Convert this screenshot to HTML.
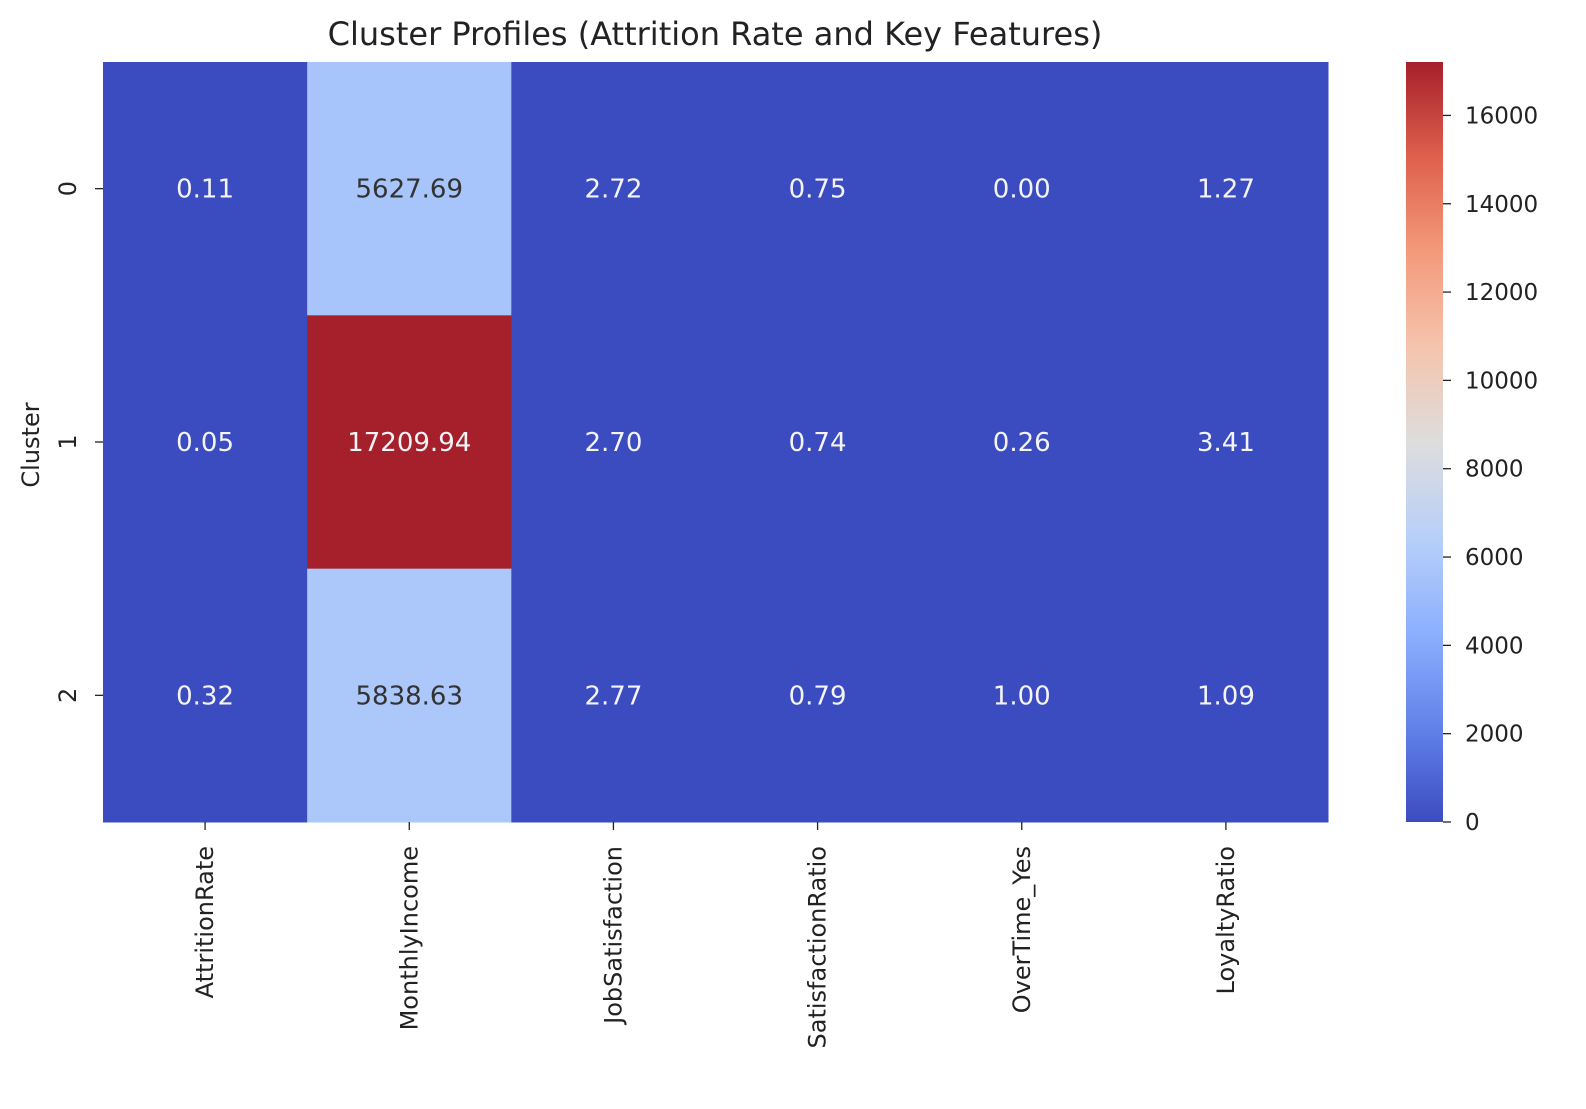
<!DOCTYPE html>
<html><head><meta charset="utf-8"><style>
html,body{margin:0;padding:0;background:#fff;}
svg text{font-family:"DejaVu Sans","Liberation Sans",sans-serif;}
</style></head><body>
<svg id="chart" width="1586" height="1104" viewBox="0 0 1586 1104" xmlns="http://www.w3.org/2000/svg">
<defs>
<linearGradient id="cw" x1="0" y1="1" x2="0" y2="0">
<stop offset="0" stop-color="#3b4cc0"/><stop offset="0.125" stop-color="#6282ea"/>
<stop offset="0.25" stop-color="#8db0fe"/><stop offset="0.375" stop-color="#b8d0f9"/>
<stop offset="0.5" stop-color="#dddddd"/><stop offset="0.625" stop-color="#f5c4ad"/>
<stop offset="0.75" stop-color="#f49a7b"/><stop offset="0.875" stop-color="#de604d"/>
<stop offset="1" stop-color="#a5202b"/></linearGradient>
</defs>
<text x="715" y="45" font-size="32" text-anchor="middle" fill="#222">Cluster Profiles (Attrition Rate and Key Features)</text>
<g id="cells"></g>
<g id="axes"></g>
<rect x="1406" y="62" width="37" height="760" fill="url(#cw)"/>
<g id="cbar"></g>
<text transform="translate(39,445) rotate(-90)" font-size="24" text-anchor="middle" fill="#222">Cluster</text>
</svg>
<script>
const features=["AttritionRate","MonthlyIncome","JobSatisfaction","SatisfactionRatio","OverTime_Yes","LoyaltyRatio"];
const clusters=["0","1","2"];
const values=[[0.11,5627.69,2.72,0.75,0.00,1.27],[0.05,17209.94,2.70,0.74,0.26,3.41],[0.32,5838.63,2.77,0.79,1.00,1.09]];
const cbarTicks=[0,2000,4000,6000,8000,10000,12000,14000,16000];
const vmin=0, vmax=17209.94;
const ns="http://www.w3.org/2000/svg";
const L=103,R=1328,T=62,B=822;
const cw=(R-L)/features.length, ch=(B-T)/clusters.length;
const stops=[[0,[59,76,192]],[0.125,[98,130,234]],[0.25,[141,176,254]],[0.375,[184,208,249]],[0.5,[221,221,221]],[0.625,[245,196,173]],[0.75,[244,154,123]],[0.875,[222,96,77]],[1,[165,32,43]]];
function cmap(t){t=Math.max(0,Math.min(1,t));for(let i=1;i<stops.length;i++){if(t<=stops[i][0]){const a=stops[i-1],b=stops[i],f=(t-a[0])/(b[0]-a[0]);const c=a[1].map((v,k)=>Math.round(v+(b[1][k]-v)*f));return {c:"rgb("+c.join(",")+")",l:(0.299*c[0]+0.587*c[1]+0.114*c[2])};}}}
function mk(tag,attrs,parent,txt){const e=document.createElementNS(ns,tag);for(const k in attrs)e.setAttribute(k,attrs[k]);if(txt!==undefined)e.textContent=txt;parent.appendChild(e);return e;}
const cells=document.getElementById('cells'),axes=document.getElementById('axes'),cb=document.getElementById('cbar');
values.forEach((row,r)=>row.forEach((v,c)=>{
 const col=cmap((v-vmin)/(vmax-vmin));
 const rc=mk('rect',{x:L+c*cw,y:T+r*ch,width:cw+0.5,height:ch+0.5,fill:col.c},cells);
 
 
 const t=mk('text',{x:L+(c+0.5)*cw,y:T+(r+0.5)*ch+9,'font-size':26,'text-anchor':'middle',fill:col.l>140?'#333333':'#f4f4f8'},cells,v.toFixed(2));
 
 
}));
features.forEach((f,i)=>{const x=L+(i+0.5)*cw;
 mk('line',{x1:x,y1:B,x2:x,y2:B+8,stroke:'#222','stroke-width':1.3},axes);
 const t=mk('text',{transform:'translate('+(x+8)+','+(B+24)+') rotate(-90)','font-size':24,'text-anchor':'end',fill:'#222'},axes,f);
 
 
});
clusters.forEach((c,i)=>{const y=T+(i+0.5)*ch;
 mk('line',{x1:L-8,y1:y,x2:L,y2:y,stroke:'#222','stroke-width':1.3},axes);
 const t=mk('text',{transform:'translate('+(L-27)+','+y+') rotate(-90)','font-size':24,'text-anchor':'middle',fill:'#222'},axes,c);
 
 
});
cbarTicks.forEach(v=>{const y=B-(v-vmin)/(vmax-vmin)*(B-T);
 mk('line',{x1:1443,y1:y,x2:1451,y2:y,stroke:'#222','stroke-width':1.3},cb);
 const t=mk('text',{x:1465,y:y+8,'font-size':23,fill:'#222'},cb,String(v));
 
 
});
</script>
</body></html>
